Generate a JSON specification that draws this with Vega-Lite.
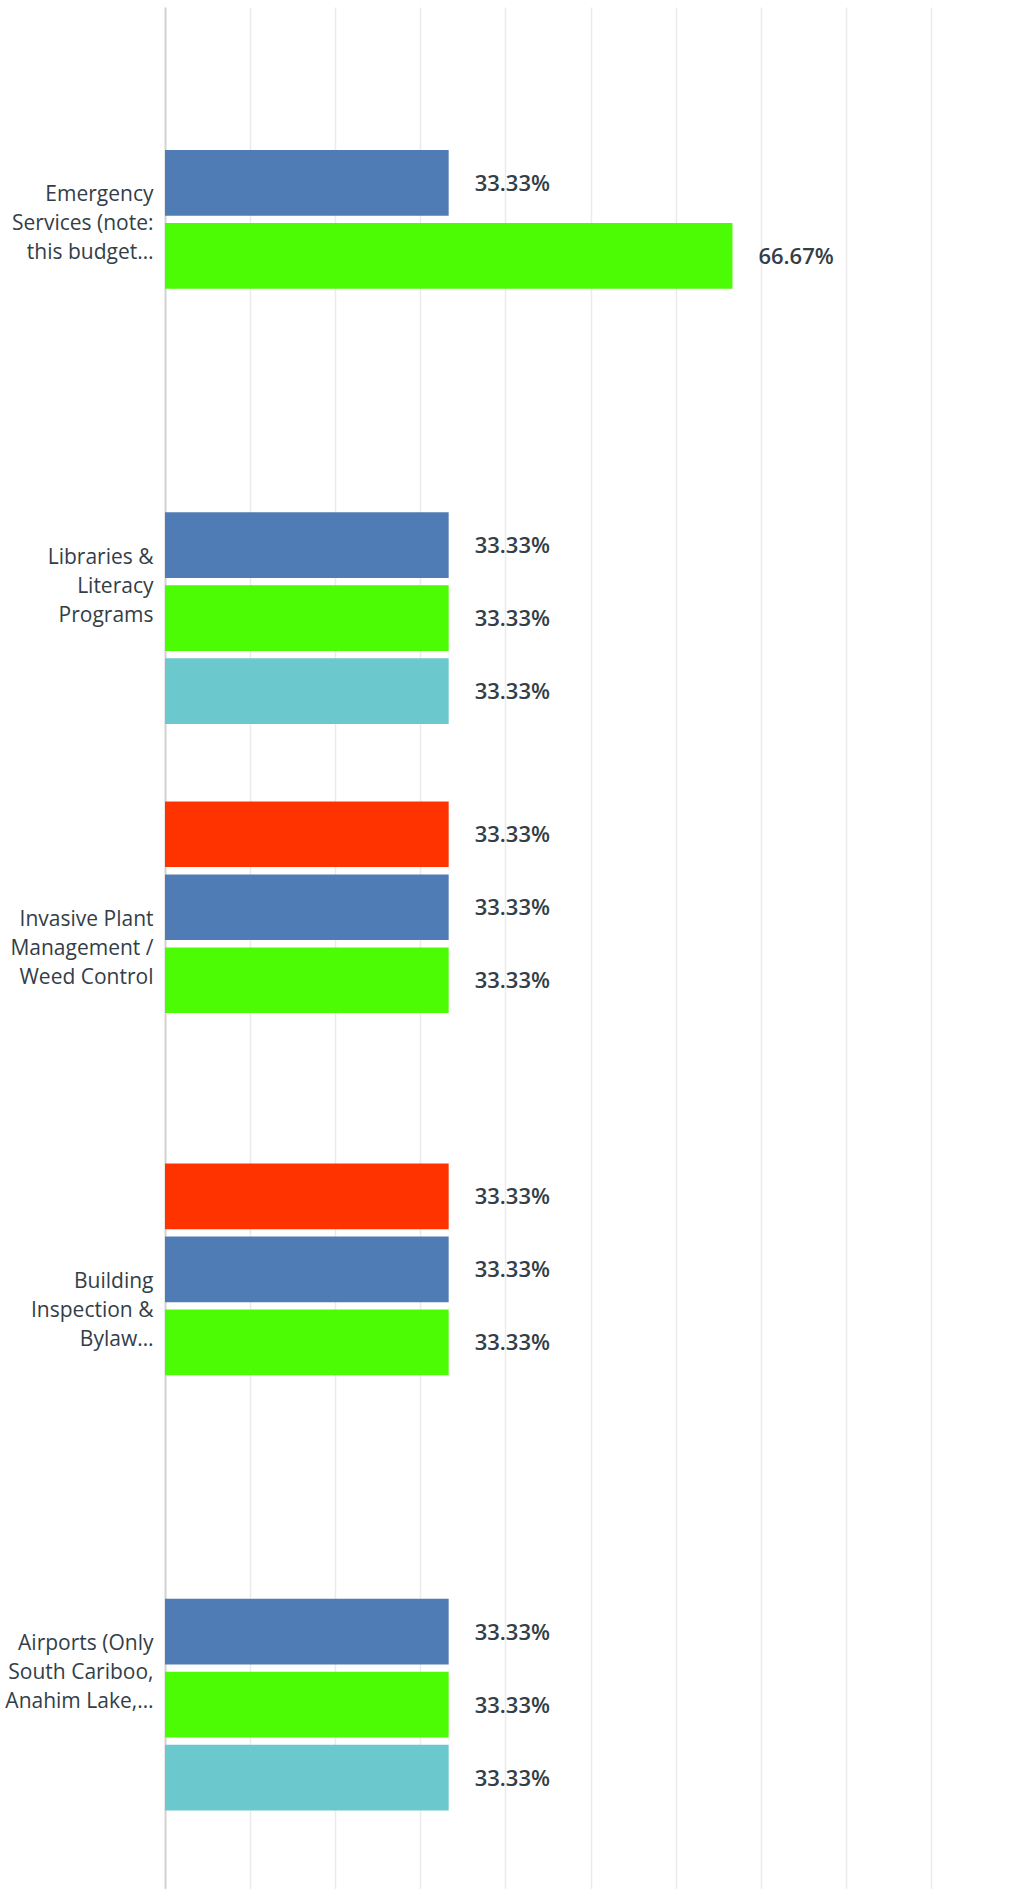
{
  "$schema": "https://vega.github.io/schema/vega-lite/v6.json",
  "autosize": {"type": "none"},
  "padding": {"left": 165, "top": 7, "right": 0, "bottom": 0},
  "width": 846,
  "height": 1882,
  "data": {
    "values": [
      {"area": "Emergency|Services (note:|this budget…", "option": "Option 2", "share": 0.3333},
      {"area": "Emergency|Services (note:|this budget…", "option": "Option 3", "share": 0.6667},
      {"area": "Libraries &|Literacy|Programs", "option": "Option 2", "share": 0.3333},
      {"area": "Libraries &|Literacy|Programs", "option": "Option 3", "share": 0.3333},
      {"area": "Libraries &|Literacy|Programs", "option": "Option 4", "share": 0.3333},
      {"area": "Invasive Plant|Management /|Weed Control", "option": "Option 1", "share": 0.3333},
      {"area": "Invasive Plant|Management /|Weed Control", "option": "Option 2", "share": 0.3333},
      {"area": "Invasive Plant|Management /|Weed Control", "option": "Option 3", "share": 0.3333},
      {"area": "Building|Inspection &|Bylaw…", "option": "Option 1", "share": 0.3333},
      {"area": "Building|Inspection &|Bylaw…", "option": "Option 2", "share": 0.3333},
      {"area": "Building|Inspection &|Bylaw…", "option": "Option 3", "share": 0.3333},
      {"area": "Airports (Only|South Cariboo,|Anahim Lake,…", "option": "Option 2", "share": 0.3333},
      {"area": "Airports (Only|South Cariboo,|Anahim Lake,…", "option": "Option 3", "share": 0.3333},
      {"area": "Airports (Only|South Cariboo,|Anahim Lake,…", "option": "Option 4", "share": 0.3333}
    ]
  },
  "encoding": {
    "y": {
      "field": "area",
      "type": "nominal",
      "sort": [
        "Emergency|Services (note:|this budget…",
        "Libraries &|Literacy|Programs",
        "Invasive Plant|Management /|Weed Control",
        "Building|Inspection &|Bylaw…",
        "Airports (Only|South Cariboo,|Anahim Lake,…"
      ],
      "scale": {"paddingInner": 0, "paddingOuter": 0.098, "align": 0.44},
      "axis": {
        "title": null,
        "ticks": false,
        "grid": false,
        "domainColor": "#d2d2d2",
        "domainWidth": 2,
        "labelFont": "Open Sans",
        "labelFontSize": 21,
        "labelColor": "#333e48",
        "labelPadding": 12,
        "labelLineHeight": 29,
        "labelOffset": -24,
        "labelLimit": 400,
        "labelExpr": "split(datum.label, '|')"
      }
    },
    "yOffset": {
      "field": "option",
      "type": "nominal",
      "scale": {
        "domain": ["Option 1", "Option 2", "Option 3", "Option 4"],
        "paddingInner": 0.1,
        "paddingOuter": 0.531
      }
    },
    "x": {
      "field": "share",
      "type": "quantitative",
      "scale": {"domain": [0, 0.994], "nice": false, "zero": true},
      "axis": {
        "title": null,
        "values": [0.1, 0.2, 0.3, 0.4, 0.5, 0.6, 0.7, 0.8, 0.9],
        "grid": true,
        "gridColor": "#ebebeb",
        "gridWidth": 1.5,
        "labels": false,
        "ticks": false,
        "domain": false
      }
    }
  },
  "layer": [
    {
      "mark": {"type": "bar"},
      "encoding": {
        "color": {
          "field": "option",
          "type": "nominal",
          "scale": {
            "domain": ["Option 1", "Option 2", "Option 3", "Option 4"],
            "range": ["#ff3300", "#507cb6", "#4cfc05", "#6bc8cd"]
          },
          "legend": null
        }
      }
    },
    {
      "mark": {
        "type": "text",
        "align": "left",
        "baseline": "middle",
        "dx": 26,
        "dy": 1,
        "font": "Open Sans",
        "fontSize": 22,
        "fontWeight": 600,
        "color": "#333e48"
      },
      "encoding": {
        "text": {"field": "share", "type": "quantitative", "format": ".2%"}
      }
    }
  ],
  "config": {"view": {"stroke": null}}
}
